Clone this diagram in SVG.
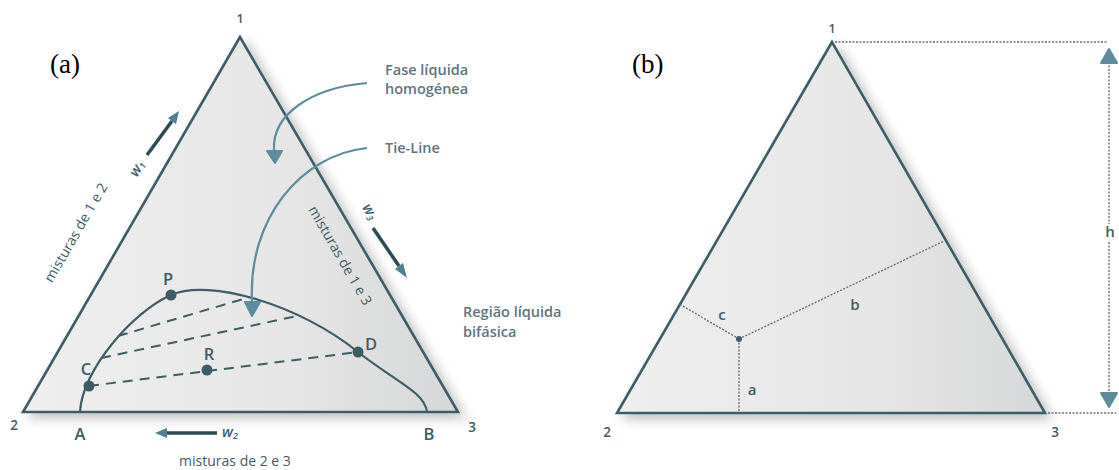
<svg xmlns="http://www.w3.org/2000/svg" width="1119" height="470" viewBox="0 0 1119 470">
<style>
.tri{stroke:#3e5c66;stroke-width:2.6;stroke-linejoin:miter}
.lbl{font-family:"Open Sans","DejaVu Sans",sans-serif;font-weight:600;fill:#3e5c66}
.note{font-family:"Open Sans","DejaVu Sans",sans-serif;font-weight:600;fill:#5f7480;font-size:14.5px}
.cap{font-family:"Liberation Serif","Times New Roman",serif;fill:#000;font-size:27px}
.tie{stroke:#3e5c66;stroke-width:2;stroke-dasharray:10 7;fill:none}
.dot{fill:#3e5c66}
.blue{stroke:#5e8c9c;stroke-width:2.2;fill:none}
.bluehead{fill:#5e8c9c;stroke:#5e8c9c;stroke-width:2;stroke-linejoin:round}
.warr{stroke:#2f4a55;stroke-width:3.5;fill:none}
.whead{fill:#4f7f90}
.dotted{stroke:#6a6f73;stroke-width:1.4;stroke-dasharray:2 1.5;fill:none}
.mix{font-size:14px;font-weight:500}
</style>
<defs>
<linearGradient id="g" x1="0" y1="0" x2="1" y2="0">
<stop offset="0" stop-color="#efefef"/>
<stop offset="0.6" stop-color="#e6e6e6"/>
<stop offset="1" stop-color="#d6d7d8"/>
</linearGradient>
<filter id="sh" x="-10%" y="-10%" width="130%" height="130%">
<feDropShadow dx="6" dy="5" stdDeviation="6" flood-color="#000" flood-opacity="0.25"/>
</filter>
</defs>

<text class="cap" x="50" y="73">(a)</text>
<text class="cap" x="632" y="73">(b)</text>

<g id="triangle-a">
<polygon class="tri" points="240,37 23,412 458,412" fill="url(#g)" filter="url(#sh)"/>
<text class="lbl" x="240" y="23" font-size="12.5" text-anchor="middle">1</text>
<text class="lbl" x="14" y="430" font-size="13.5" text-anchor="middle">2</text>
<text class="lbl" x="472" y="432" font-size="13.5" text-anchor="middle">3</text>
</g>

<g id="binodal">
<path d="M80,412 C82,370 133,311.6 171,295 C210,278 300,305 358,352 C393,380 425,392 427,412" stroke="#3e5c66" stroke-width="2.2" fill="none"/>
<text class="lbl" x="80" y="440" font-size="16.5" text-anchor="middle">A</text>
<text class="lbl" x="429" y="440" font-size="16.5" text-anchor="middle">B</text>
</g>

<g id="connectors">
<line class="tie" x1="89" y1="386" x2="358" y2="352"/>
<line class="tie" x1="101" y1="358" x2="297" y2="316"/>
<line class="tie" x1="118" y1="336" x2="250" y2="297"/>
<path class="blue" d="M367,83 C310,88 272,115 274,150"/>
<polygon class="bluehead" points="267,151 282,151 275,163"/>
<path class="blue" d="M367,148 C300,155 248,220 252,301"/>
<polygon class="bluehead" points="245,302 260,302 252,316"/>
<line class="warr" x1="147" y1="155" x2="172" y2="121"/>
<polygon class="whead" points="179,111 168,118 176,124"/>
<line class="warr" x1="373" y1="228" x2="399" y2="266"/>
<polygon class="whead" points="407,278 395,269 403,263"/>
<line class="warr" x1="217" y1="433" x2="166" y2="433"/>
<polygon class="whead" points="155,433 167,428 167,438"/>
</g>

<g id="point-P"><circle class="dot" cx="171" cy="295" r="5.5"/><text class="lbl" x="168" y="285" font-size="16.5" text-anchor="middle">P</text></g>
<g id="point-C"><circle class="dot" cx="89" cy="386" r="5.5"/><text class="lbl" x="86" y="375" font-size="16.5" text-anchor="middle">C</text></g>
<g id="point-R"><circle class="dot" cx="207" cy="370" r="5.5"/><text class="lbl" x="209" y="360" font-size="16.5" text-anchor="middle">R</text></g>
<g id="point-D"><circle class="dot" cx="358" cy="352" r="5.5"/><text class="lbl" x="365" y="350" font-size="16.5">D</text></g>

<g id="labels-a">
<text class="note" x="385" y="75">Fase líquida</text>
<text class="note" x="385" y="94">homogénea</text>
<text class="note" x="385" y="153">Tie-Line</text>
<text class="note" x="463" y="317">Região líquida</text>
<text class="note" x="463" y="337">bifásica</text>
<text class="lbl mix" text-anchor="middle" transform="translate(80,235) rotate(-60)">misturas de 1 e 2</text>
<text class="lbl mix" text-anchor="middle" transform="translate(336,258) rotate(60)">misturas de 1 e 3</text>
<text class="lbl mix" x="235" y="466" text-anchor="middle">misturas de 2 e 3</text>
<text class="lbl" font-size="14.5" font-weight="400" font-style="italic" text-anchor="middle" transform="translate(141,171) rotate(-60)">w<tspan font-size="9" dy="2">1</tspan></text>
<text class="lbl" font-size="14.5" font-weight="400" font-style="italic" text-anchor="middle" transform="translate(366,214) rotate(60)">w<tspan font-size="9" dy="2">3</tspan></text>
<text class="lbl" font-size="14.5" font-weight="400" font-style="italic" x="222" y="437">w<tspan font-size="9" dy="2">2</tspan></text>
</g>

<g id="triangle-b">
<polygon class="tri" points="832,42 617,413 1045,413" fill="url(#g)" filter="url(#sh)"/>
<text class="lbl" x="832" y="33" font-size="12.5" text-anchor="middle">1</text>
<text class="lbl" x="607" y="437" font-size="13.5" text-anchor="middle">2</text>
<text class="lbl" x="1055" y="437" font-size="13.5" text-anchor="middle">3</text>
</g>

<g id="distances-b">
<line class="dotted" x1="739" y1="339" x2="739" y2="412"/>
<line class="dotted" x1="739" y1="339" x2="681" y2="305"/>
<line class="dotted" x1="739" y1="339" x2="944" y2="241"/>
<circle class="dot" cx="739" cy="339" r="3"/>
<text class="lbl" x="752" y="395" font-size="15" text-anchor="middle">a</text>
<text class="lbl" x="855" y="310" font-size="15" text-anchor="middle">b</text>
<text class="lbl" x="722" y="320" font-size="15" text-anchor="middle">c</text>
</g>

<g id="height-h">
<line class="dotted" x1="835" y1="42" x2="1108" y2="42"/>
<line class="dotted" x1="1048" y1="413" x2="1116" y2="413"/>
<line class="dotted" x1="1109" y1="62" x2="1109" y2="224"/>
<line class="dotted" x1="1109" y1="242" x2="1109" y2="396"/>
<polygon class="bluehead" points="1109,49 1117,63 1101,63" fill="#4d7f92" stroke="#4d7f92" stroke-width="4"/>
<polygon class="bluehead" points="1109,407 1117,393 1101,393" fill="#4d7f92" stroke="#4d7f92" stroke-width="4"/>
<text class="lbl" x="1110" y="237" font-size="15" text-anchor="middle">h</text>
</g>
</svg>
